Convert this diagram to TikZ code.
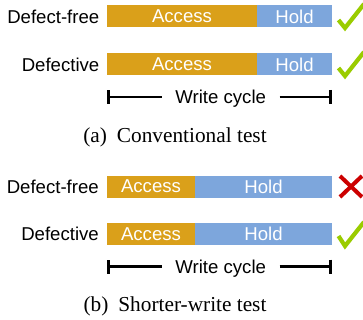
\documentclass[tikz,border=0pt]{standalone}
\usepackage{fontspec}
\setmainfont{Liberation Serif}
\newfontfamily\labfont{Liberation Sans}
\usetikzlibrary{positioning, arrows.meta}

\definecolor{accesscol}{RGB}{218,160,26}
\definecolor{holdcol}{RGB}{125,166,220}
\definecolor{passcol}{RGB}{154,204,0}
\definecolor{failcol}{RGB}{204,0,0}

\begin{document}
\begin{tikzpicture}[x=1pt, y=-1pt]
	\tikzstyle{lbl} = [inner sep=0pt, font=\labfont\fontsize{18.6}{22}\selectfont]
	\tikzstyle{bar} = [rectangle, minimum height=22pt, inner sep=0pt, outer sep=0pt, text=white, lbl]
	\tikzstyle{cycle} = [line width=2.6pt, -{Bar[width=14pt]}]
	\tikzstyle{caption} = [anchor=base, inner sep=0pt, font=\fontsize{21.3}{25}\selectfont]
	\tikzstyle{check} = [passcol, line width=4.2pt]
	\tikzstyle{cross} = [failcol, line width=4pt]

	\useasboundingbox (0, 0) rectangle (363, 320);

	% (a) conventional test
	\foreach \index/\ypos/\lab in {1/16.5/Defect-free, 2/64.5/Defective} {
		\node[lbl, anchor=east] (La-\index) at (99.5, \ypos) {\lab};
		\node[bar, fill=accesscol, minimum width=150pt] (Aa-\index) at (182, \ypos) {Access};
		\node[bar, fill=holdcol, minimum width=75pt, right=0pt of Aa-\index] (Ha-\index) {Hold};
	}

	\draw[check] (338.5, 20) -- (345, 28) -- (364, 4);
	\draw[check] (338.5, 68) -- (345, 76) -- (364, 52);

	\node[lbl, inner xsep=13.5pt, text depth=0pt] (Wa) at (220.7, 97) {Write cycle};
	\coordinate (Wa-l) at (107, 97);
	\coordinate (Wa-r) at (332, 97);
	\draw[cycle] (Wa.west) -- (Wa-l);
	\draw[cycle] (Wa.east) -- (Wa-r);

	\node[caption] (Ca) at (175, 142.5) {(a)\hspace{10pt}Conventional test};

	% (b) shorter-write test
	\foreach \index/\ypos/\lab in {1/186.5/Defect-free, 2/234/Defective} {
		\node[lbl, anchor=east] (Lb-\index) at (99, \ypos) {\lab};
		\node[bar, fill=accesscol, minimum width=88pt] (Ab-\index) at (151, \ypos) {Access};
		\node[bar, fill=holdcol, minimum width=137pt, right=0pt of Ab-\index] (Hb-\index) {Hold};
	}

	\draw[cross] (340, 176) -- (362, 197);
	\draw[cross] (340, 197) -- (362, 176);
	\draw[check] (338.5, 236) -- (345, 246) -- (364, 222);

	\node[lbl, inner xsep=13.5pt, text depth=0pt] (Wb) at (220.7, 266.7) {Write cycle};
	\coordinate (Wb-l) at (107, 266.7);
	\coordinate (Wb-r) at (332, 266.7);
	\draw[cycle] (Wb.west) -- (Wb-l);
	\draw[cycle] (Wb.east) -- (Wb-r);

	\node[caption] (Cb) at (175, 311.7) {(b)\hspace{10pt}Shorter-write test};
\end{tikzpicture}
\end{document}
